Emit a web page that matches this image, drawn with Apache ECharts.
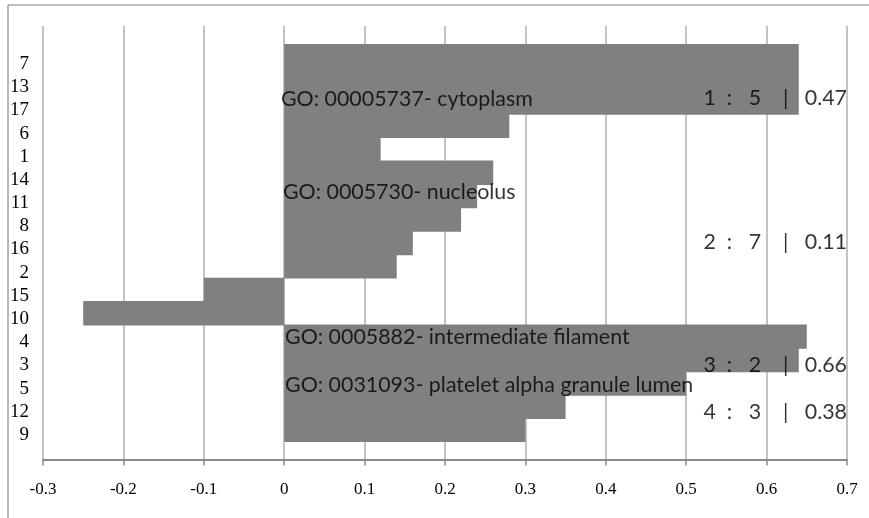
<!DOCTYPE html>
<html>
<head>
<meta charset="utf-8">
<script src="https://cdn.jsdelivr.net/npm/echarts@6/dist/echarts.min.js"></script>
<style>
html,body{margin:0;padding:0;background:#fff;}
#c{width:869px;height:518px;}
</style>
</head>
<body>
<div id="c"></div>
<script>
// ---- data ----
var categories = ['7','13','17','6','1','14','11','8','16','2','15','10','4','3','5','12','9'];
var values = [0.64,0.64,0.64,0.28,0.12,0.26,0.24,0.22,0.16,0.14,-0.10,-0.25,0.65,0.64,0.50,0.35,0.30];
var xTicks = [-0.3,-0.2,-0.1,0,0.1,0.2,0.3,0.4,0.5,0.6,0.7];
var goTerms = ['GO: 00005737- cytoplasm','GO: 0005730- nucleolus','GO: 0005882- intermediate filament','GO: 0031093- platelet alpha granule lumen'];
var ratioLabels = ['1  :   5    |   0.47','2  :   7    |   0.11','3  :   2    |   0.66','4  :   3    |   0.38'];
// annotation anchors (x value, position in category bands)
var goAnchors = [[-0.004,2.35],[-0.0016,6.31],[0.001,12.5],[0.001,14.57]];
var ratioAnchors = [[0.7,2.31],[0.7,8.45],[0.7,13.71],[0.7,15.71]];

var chart = echarts.init(document.getElementById('c'), null, {renderer:'canvas'});
var serif = '"Liberation Serif","Times New Roman",serif';
var sans = 'Lato,"Liberation Sans",sans-serif';

var goData = goTerms.map(function(t,i){return {value:goAnchors[i], name:t};});
var ratioData = ratioLabels.map(function(t,i){return {value:ratioAnchors[i], name:t};});

var option = {
  backgroundColor:'#fff',
  animation:false,
  graphic:[
    {type:'line', shape:{x1:8,y1:5,x2:869,y2:5}, style:{stroke:'#bdbdbd', lineWidth:2}, silent:true},
    {type:'line', shape:{x1:8,y1:5,x2:8,y2:518}, style:{stroke:'#a0a0a0', lineWidth:1.5}, silent:true}
  ],
  grid:[
    {left:43, right:22, top:26, bottom:58.5},
    {left:43, right:22, top:44, bottom:76},
    {left:43, right:22, top:52.4, bottom:71.4}
  ],
  xAxis:[
    {gridIndex:0, type:'value', min:-0.3, max:0.7, interval:0.1,
     axisLine:{show:true, onZero:false, lineStyle:{color:'#898989', width:2}},
     axisTick:{show:true, length:6, lineStyle:{color:'#898989', width:1.5}},
     splitLine:{show:true, lineStyle:{color:'#b0b0b0', width:1.5}},
     axisLabel:{color:'#000', fontFamily:serif, fontSize:17, margin:22,
       formatter:function(v){return String(Math.round(v*10)/10);}}
    },
    {gridIndex:1, type:'value', min:-0.3, max:0.7, show:false},
    {gridIndex:2, type:'value', min:-0.3, max:0.7, show:false}
  ],
  yAxis:[
    {gridIndex:0, type:'value', min:0, max:1, show:false},
    {gridIndex:1, type:'category', inverse:true, data:categories, show:false},
    {gridIndex:1, type:'value', min:0, max:17, inverse:true, show:false},
    {gridIndex:2, type:'category', inverse:true, data:categories,
     axisLine:{show:false}, axisTick:{show:false}, splitLine:{show:false},
     axisLabel:{color:'#000', fontFamily:serif, fontSize:19, margin:14, interval:0}
    }
  ],
  series:[
    {type:'bar', xAxisIndex:1, yAxisIndex:1, data:values, barWidth:'104%',
     itemStyle:{color:'#808080'}, silent:true},
    {type:'scatter', xAxisIndex:1, yAxisIndex:2, data:goData, symbolSize:0, silent:true, z:5,
     label:{show:true, position:'right', distance:0, formatter:'{b}', color:'#000', fontFamily:sans, fontSize:21.4}},
    {type:'scatter', xAxisIndex:1, yAxisIndex:2, data:ratioData, symbolSize:0, silent:true, z:5,
     label:{show:true, position:'left', distance:0, formatter:'{b}', color:'#000', fontFamily:sans, fontSize:21.4}}
  ]
};
chart.setOption(option);
</script>
</body>
</html>
